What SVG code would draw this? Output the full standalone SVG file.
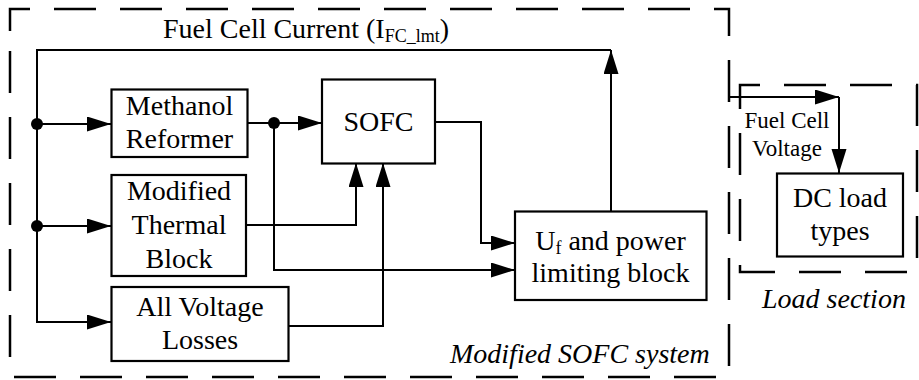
<svg xmlns="http://www.w3.org/2000/svg" width="919" height="380" viewBox="0 0 919 380">
<defs>
<marker id="ah" markerUnits="userSpaceOnUse" markerWidth="24" markerHeight="16" refX="24" refY="7.5" orient="auto">
<path d="M0,0 L24,7.5 L0,15 z" fill="#000"/>
</marker>
<style>
.box{fill:#fff;stroke:#000;stroke-width:2.2}
.dash{fill:none;stroke:#000;stroke-width:2.5;stroke-dasharray:42 24}
.con{fill:none;stroke:#000;stroke-width:2}
.arr{fill:none;stroke:#000;stroke-width:2;marker-end:url(#ah)}
.t{font-family:"Liberation Serif","Times New Roman",serif;font-size:28px;fill:#000;text-anchor:middle}
.it{font-family:"Liberation Serif","Times New Roman",serif;font-size:28px;font-style:italic;fill:#000}
.s{font-family:"Liberation Serif","Times New Roman",serif;font-size:23px;fill:#000;text-anchor:middle}
</style>
</defs>
<rect width="919" height="380" fill="#fff"/>

<g id="sofc-system-frame">
<path class="dash" d="M10,31 V9 H729 V377 H10 Z"/>
<text class="it" x="450" y="363">Modified SOFC system</text>
</g>
<g id="load-section-frame">
<path class="dash" d="M740,107 V85 H917 V272 H740 Z"/>
<text class="it" x="762" y="308">Load section</text>
</g>

<g id="connectors">
<path class="arr" d="M611,212 V50"/>
<path class="arr" d="M611,50 H37 V322 H111"/>
<path class="arr" d="M37,124 H111"/>
<path class="arr" d="M37,226 H111"/>
<path class="arr" d="M247,123 H322"/>
<path class="arr" d="M274,123 V270 H515"/>
<path class="arr" d="M435,122 H481 V243 H515"/>
<path class="arr" d="M246,225 H356 V163"/>
<path class="arr" d="M288,326 H383 V163"/>
<path class="arr" d="M729,97 H839"/>
<path class="arr" d="M839,97 V173"/>
<circle cx="37" cy="124" r="6"/>
<circle cx="37" cy="226" r="6"/>
<circle cx="274" cy="123" r="6"/>
<text x="163" y="38" style="font-family:'Liberation Serif','Times New Roman',serif;font-size:28px">Fuel Cell Current (I<tspan font-size="18" dy="4">FC_lmt</tspan><tspan dy="-4">)</tspan></text>
<text class="s" x="787" y="128">Fuel Cell</text>
<text class="s" x="787" y="156">Voltage</text>
</g>

<g id="methanol-reformer">
<rect class="box" x="111.5" y="89.5" width="136" height="67.5"/>
<text class="t" x="179.5" y="115">Methanol</text>
<text class="t" x="179.5" y="148">Reformer</text>
</g>
<g id="modified-thermal-block">
<rect class="box" x="111.5" y="175" width="134.5" height="101"/>
<text class="t" x="179" y="200">Modified</text>
<text class="t" x="179" y="234">Thermal</text>
<text class="t" x="179" y="268">Block</text>
</g>
<g id="all-voltage-losses">
<rect class="box" x="111.5" y="287" width="177" height="74"/>
<text class="t" x="200" y="316">All Voltage</text>
<text class="t" x="200" y="349">Losses</text>
</g>
<g id="sofc">
<rect class="box" x="322" y="79.5" width="113" height="84"/>
<text class="t" x="378.5" y="131">SOFC</text>
</g>
<g id="uf-power-limiting-block">
<rect class="box" x="515" y="211.5" width="191.5" height="88.5"/>
<text class="t" x="610.5" y="250">U<tspan font-size="18" dy="4">f</tspan><tspan dy="-4"> and power</tspan></text>
<text class="t" x="610.5" y="282">limiting block</text>
</g>
<g id="dc-load-types">
<rect class="box" x="777" y="173.5" width="126" height="83"/>
<text class="t" x="840" y="207">DC load</text>
<text class="t" x="840" y="240">types</text>
</g>
</svg>
